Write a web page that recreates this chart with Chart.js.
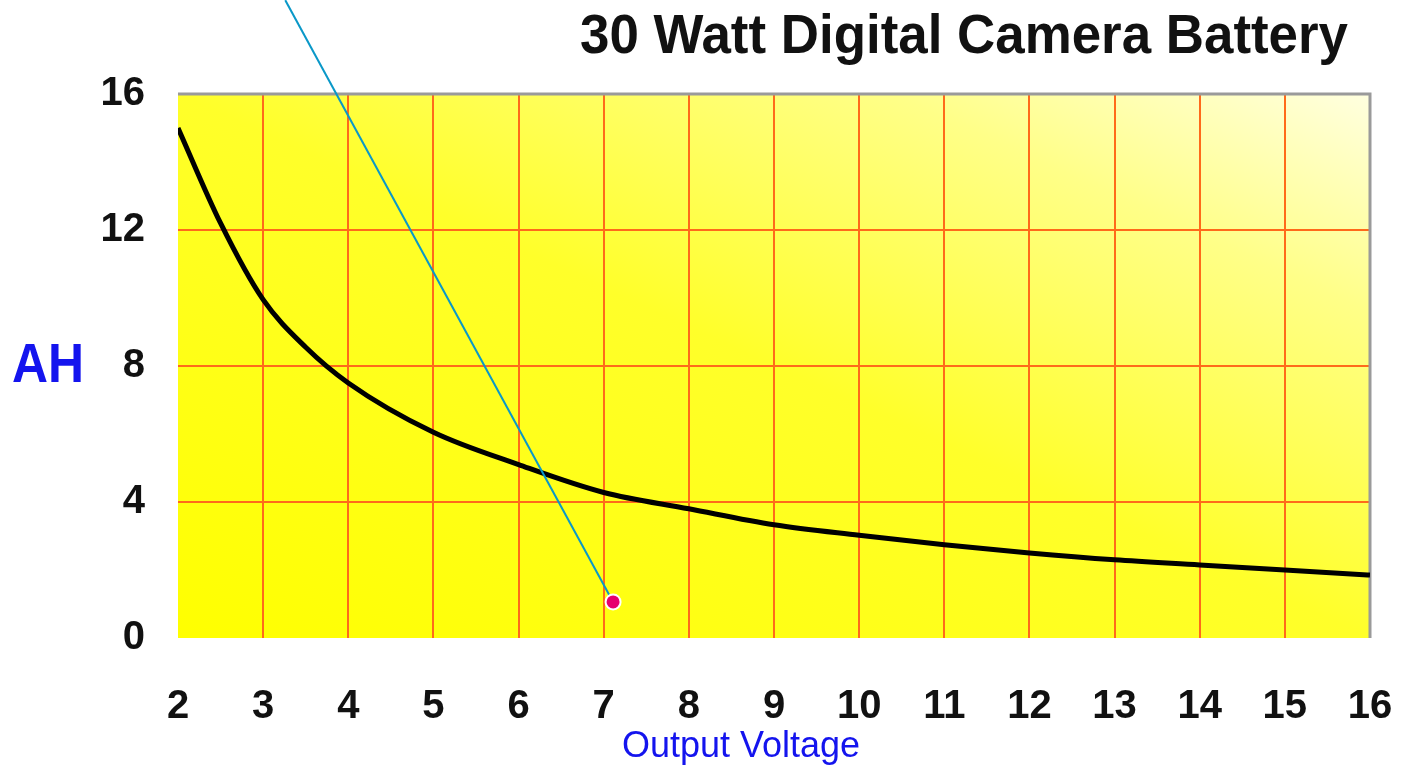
<!DOCTYPE html>
<html>
<head>
<meta charset="utf-8">
<title>30 Watt Digital Camera Battery</title>
<script src="https://cdn.jsdelivr.net/npm/chart.js@4.4.1/dist/chart.umd.min.js"></script>
<style>
  html, body { margin: 0; padding: 0; background: #fff; }
  #wrap { width: 1408px; height: 765px; position: relative; }
</style>
</head>
<body>
<div id="wrap"><canvas id="chart"></canvas></div>
<script>
// values
const voltage = [2, 2.5, 3, 3.5, 4, 5, 6, 7, 8, 9, 10, 11, 12, 13, 14, 15, 16];
const ampHours = [15.0, 12.2, 9.95, 8.55, 7.5, 6.05, 5.1, 4.28, 3.8, 3.33, 3.02, 2.74, 2.5, 2.3, 2.15, 2.0, 1.85];

// the blue pointer line with the pink dot at its end
const pointerX = [3.26, 7.11];
const pointerY = [18.76, 1.06];

const xTicks = [2, 3, 4, 5, 6, 7, 8, 9, 10, 11, 12, 13, 14, 15, 16];
const yTicks = [0, 4, 8, 12, 16];

const titleText = "30 Watt Digital Camera Battery";
const yLabel = "AH";
const xLabel = "Output Voltage";

const gridRed = "#ff6a1a";

// yellow gradient behind the plot (pale in the top right corner), plus the grey top/right frame
const plotBackground = {
    id: "plotBackground",
    beforeDraw(chart){
        const {ctx, chartArea: a} = chart;
        const w = a.right - a.left, h = a.bottom - a.top;
        const cx = a.left + w / 2, cy = a.top + h / 2;
        // run the gradient across the other diagonal so the corners share a shade
        const len = Math.hypot(w, h);
        const ux = h / len, uy = -w / len;
        const half = (w / 2) * ux + (-h / 2) * uy;
        const g = ctx.createLinearGradient(cx - half * ux, cy - half * uy, cx + half * ux, cy + half * uy);
        g.addColorStop(0, "#ffff00");
        g.addColorStop(0.5, "#ffff2a");
        g.addColorStop(0.8, "#ffff88");
        g.addColorStop(1, "#ffffe0");
        ctx.save();
        ctx.fillStyle = g;
        ctx.fillRect(a.left, a.top, w, h);
        ctx.restore();
    },
    beforeDatasetsDraw(chart){
        const {ctx, chartArea: a} = chart;
        ctx.save();
        ctx.strokeStyle = "#9a9a9a";
        ctx.lineWidth = 3;
        ctx.beginPath();
        ctx.moveTo(a.left, a.top);
        ctx.lineTo(a.right, a.top);
        ctx.lineTo(a.right, a.bottom);
        ctx.stroke();
        ctx.restore();
    }
};

// title and the two axis captions
const captions = {
    id: "captions",
    afterDraw(chart){
        const ctx = chart.ctx;
        ctx.save();
        ctx.textBaseline = "alphabetic";
        ctx.textAlign = "left";
        ctx.fillStyle = "#111";
        ctx.font = "bold 56px 'Liberation Sans', Arial, sans-serif";
        ctx.fillText(titleText, 580, 53, 768);

        ctx.fillStyle = "#1414ee";
        ctx.font = "bold 56px 'Liberation Sans', Arial, sans-serif";
        ctx.fillText(yLabel, 12, 382, 72);

        ctx.textAlign = "center";
        ctx.font = "36px 'Liberation Sans', Arial, sans-serif";
        ctx.fillText(xLabel, 741, 757, 245);
        ctx.restore();
    }
};

const tickFont = {family: "'Liberation Sans', Arial, sans-serif", size: 40, weight: "bold"};

new Chart(document.getElementById("chart"), {
    type: "line",
    data: {
        datasets: [
            {
                data: pointerX.map((x, i) => ({x: x, y: pointerY[i]})),
                borderColor: "#0a98c8",
                borderWidth: 2,
                pointRadius: [0, 7.5],
                pointBackgroundColor: "#e6006e",
                pointBorderColor: "#ffffff",
                pointBorderWidth: 2,
                clip: false,
                order: 0
            },
            {
                data: voltage.map((v, i) => ({x: v, y: ampHours[i]})),
                borderColor: "#000000",
                borderWidth: 5,
                pointRadius: 0,
                cubicInterpolationMode: "monotone",
                fill: false,
                order: 1
            }
        ]
    },
    options: {
        responsive: true,
        maintainAspectRatio: false,
        animation: false,
        layout: {padding: {top: 94, right: 38, left: 0, bottom: 0}},
        plugins: {
            legend: {display: false},
            tooltip: {enabled: false}
        },
        scales: {
            x: {
                type: "linear",
                min: 2,
                max: 16,
                afterBuildTicks(scale){ scale.ticks = xTicks.map(v => ({value: v})); },
                afterFit(scale){
                    scale.height = 127;
                    scale.paddingLeft = 0;
                    scale.paddingRight = 0;
                },
                border: {display: false},
                grid: {
                    drawTicks: false,
                    lineWidth: 2,
                    color: ctx => (ctx.tick && (ctx.tick.value === 2 || ctx.tick.value === 16)) ? "rgba(0,0,0,0)" : gridRed
                },
                ticks: {
                    font: tickFont,
                    color: "#111",
                    padding: 45,
                    maxRotation: 0,
                    autoSkip: false
                }
            },
            y: {
                min: 0,
                max: 16,
                afterBuildTicks(scale){ scale.ticks = yTicks.map(v => ({value: v})); },
                afterFit(scale){
                    scale.width = 178;
                    scale.paddingTop = 0;
                    scale.paddingBottom = 0;
                },
                border: {display: false},
                grid: {
                    drawTicks: false,
                    lineWidth: 2,
                    color: ctx => (ctx.tick && (ctx.tick.value === 0 || ctx.tick.value === 16)) ? "rgba(0,0,0,0)" : gridRed
                },
                ticks: {
                    font: tickFont,
                    color: "#111",
                    padding: 33
                }
            }
        }
    },
    plugins: [plotBackground, captions]
});
</script>
</body>
</html>
